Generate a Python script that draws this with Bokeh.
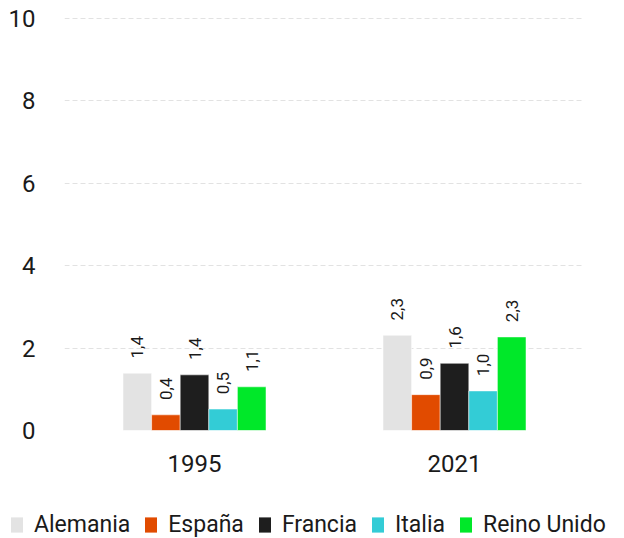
import math
from bokeh.plotting import figure
from bokeh.layouts import column
from bokeh.models import ColumnDataSource, FactorRange, Range1d, FixedTicker
from bokeh.transform import dodge
from bokeh.embed import file_html
from bokeh.resources import INLINE

years = ["1995", "2021"]
countries = ["Alemania", "España", "Francia", "Italia", "Reino Unido"]
alemania = [1.39, 2.31]
espana = [0.38, 0.87]
francia = [1.35, 1.63]
italia = [0.52, 0.96]
reino_unido = [1.06, 2.27]
colors = ["#e3e3e3", "#e14b00", "#1e1e1e", "#33ccd6", "#00e829"]
y_ticks = [0, 2, 4, 6, 8, 10]

series = [alemania, espana, francia, italia, reino_unido]

p = figure(width=615, height=486, x_range=FactorRange(factors=years, range_padding=0),
           y_range=Range1d(0, 10.02), output_backend="svg", toolbar_location=None,
           min_border_left=64, min_border_right=31, min_border_top=17, min_border_bottom=56)
p.outline_line_color = None
p.frame_align = False

# legend strip (separate figure so the legend may span the full width)
pl = figure(width=615, height=52, output_backend="svg", toolbar_location=None,
            x_axis_location=None, y_axis_location=None, min_border=0,
            x_range=FactorRange(factors=years), y_range=Range1d(10, 20))
pl.outline_line_color = None
pl.grid.grid_line_color = None
pl.frame_align = False

bar_w = 0.11
for i, (name, vals, col) in enumerate(zip(countries, series, colors)):
    src = ColumnDataSource(dict(year=years, value=vals,
                                label=[f"{v:.1f}".replace(".", ",") for v in vals]))
    off = (i - 2) * bar_w
    p.vbar(x=dodge("year", off, range=p.x_range), top="value", width=bar_w, source=src,
           fill_color=col, line_color="white", line_width=0.5)
    p.text(x=dodge("year", off, range=p.x_range), y="value", text="label", source=src,
           angle=math.pi / 2, text_align="center", text_baseline="middle", y_offset=-26,
           text_font_size="17px", text_font={"value": "Roboto"}, text_color="#1a1a1a")
    # same bars in the strip, outside its visible range: only used for legend swatches
    pl.vbar(x="year", top="value", width=bar_w, source=src, fill_color=col,
            line_color=None, legend_label=name)

p.xgrid.grid_line_color = None
p.ygrid.grid_line_color = "#e2e2e2"
p.ygrid.grid_line_dash = "5 3"
p.ygrid.grid_line_width = 1
p.yaxis.ticker = FixedTicker(ticks=y_ticks)

for ax in (p.xaxis, p.yaxis):
    ax.axis_line_color = None
    ax.major_tick_line_color = None
    ax.minor_tick_line_color = None
    ax.major_label_text_font = "Roboto"
    ax.major_label_text_font_size = "24px"
    ax.major_label_text_color = "#1a1a1a"
p.yaxis.major_label_standoff = 23
p.xaxis.major_label_standoff = 18

lg = pl.legend[0]
lg.orientation = "horizontal"
lg.location = (9, 0)
lg.glyph_width = 15
lg.glyph_height = 19
lg.label_standoff = 10
lg.spacing = 13
lg.padding = 0
lg.margin = 0
lg.border_line_color = None
lg.background_fill_alpha = 0
lg.label_text_font = "Roboto"
lg.label_text_font_size = "23px"
lg.label_text_color = "#1a1a1a"

layout = column(p, pl, spacing=0)
open("out.html", "w").write(file_html(layout, INLINE))
